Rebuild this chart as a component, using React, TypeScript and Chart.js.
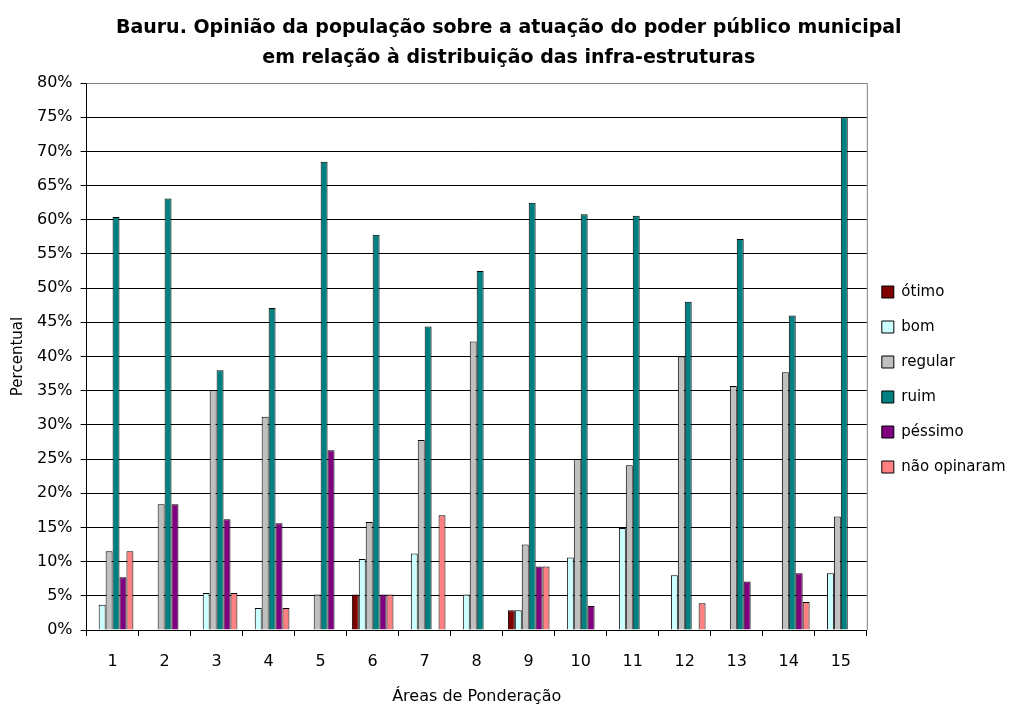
import React, { useEffect, useRef } from "react";
import { Chart, registerables } from "chart.js";

Chart.register(...registerables);

const categories = ["1", "2", "3", "4", "5", "6", "7", "8", "9", "10", "11", "12", "13", "14", "15"];
const otimo = [null, null, null, null, null, 5.2, null, null, 2.9, null, null, null, null, null, null];
const bom = [3.7, null, 5.4, 3.2, null, 10.4, 11.2, 5.2, 2.9, 10.6, 14.9, 8.0, null, null, 8.3];
const regular = [11.5, 18.4, 35.1, 31.2, 5.2, 15.8, 27.8, 42.2, 12.5, 25.0, 24.1, 40.0, 35.7, 37.7, 16.6];
const ruim = [60.4, 63.1, 38.0, 47.1, 68.5, 57.8, 44.4, 52.5, 62.5, 60.8, 60.6, 48.0, 57.2, 46.0, 75.0];
const pessimo = [7.7, 18.4, 16.2, 15.6, 26.3, 5.2, null, null, 9.3, 3.5, null, null, 7.1, 8.3, null];
const naoOpinaram = [11.5, null, 5.4, 3.2, null, 5.2, 16.8, null, 9.3, null, null, 3.9, null, 4.1, null];

const seriesNames = ["ótimo", "bom", "regular", "ruim", "péssimo", "não opinaram"];
const seriesColors = ["#800000", "#CCFFFF", "#C0C0C0", "#008080", "#800080", "#FF8080"];
const titleLines = [
  "Bauru. Opinião da população sobre a atuação do poder público municipal",
  "em relação à distribuição das infra-estruturas",
];
const FONT = "'DejaVu Sans', sans-serif";

const framePlugin = {
  id: "frame",
  beforeDatasetsDraw(chart: any) {
    const { ctx, chartArea } = chart;
    ctx.save();
    ctx.strokeStyle = "#808080";
    ctx.lineWidth = 1;
    ctx.beginPath();
    ctx.moveTo(chartArea.left, chartArea.top + 0.5);
    ctx.lineTo(chartArea.right + 0.5, chartArea.top + 0.5);
    ctx.lineTo(chartArea.right + 0.5, chartArea.bottom);
    ctx.stroke();
    ctx.restore();
  },
};

export default function App() {
  const ref = useRef<HTMLCanvasElement | null>(null);
  useEffect(() => {
    if (!ref.current) return;
    const allData = [otimo, bom, regular, ruim, pessimo, naoOpinaram];
    const chart = new Chart(ref.current, {
      type: "bar",
      data: {
        labels: categories,
        datasets: allData.map((d, i) => ({
          label: seriesNames[i],
          data: d as any,
          backgroundColor: seriesColors[i],
          borderColor: "#000000",
          borderWidth: 1,
          categoryPercentage: 0.8,
          barPercentage: 1.0,
        })),
      },
      options: {
        animation: false,
        responsive: false,
        maintainAspectRatio: false,
        layout: { padding: { left: 2, right: 3.5, top: 0, bottom: 0 } },
        plugins: {
          title: {
            display: true,
            text: titleLines,
            color: "#000",
            font: { family: FONT, size: 19, weight: "bold", lineHeight: 30 / 19 },
            padding: { top: 13, bottom: 10 },
          },
          legend: {
            position: "right",
            align: "center",
            title: {
              display: true,
              text: " ",
              font: { family: FONT, size: 10, lineHeight: 1.2 },
              padding: { top: 0, bottom: 46 },
            },
            labels: {
              color: "#000",
              font: { family: FONT, size: 15, lineHeight: 20 / 15 },
              boxWidth: 12,
              boxHeight: 12,
              padding: 15,
              generateLabels: (ch: any) =>
                Chart.defaults.plugins.legend.labels
                  .generateLabels(ch)
                  .map((l: any) => ({ ...l, text: [l.text] })),
            },
          },
          tooltip: { enabled: false },
        },
        scales: {
          x: {
            offset: true,
            grid: {
              display: true,
              offset: true,
              drawOnChartArea: false,
              drawTicks: true,
              tickLength: 6,
              color: "#000",
            },
            border: { display: true, color: "#000", width: 1 },
            ticks: { color: "#000", font: { family: FONT, size: 16, lineHeight: 1 }, padding: 18 },
            title: {
              display: true,
              text: "Áreas de Ponderação",
              color: "#000",
              font: { family: FONT, size: 16, lineHeight: 1 },
              padding: { top: 1, bottom: 1 },
            },
          },
          y: {
            min: 0,
            max: 80,
            grid: {
              color: (c: any) => (c.tick && c.tick.value === 80 ? "#808080" : "#000"),
              tickColor: "#000",
              tickLength: 6,
              drawTicks: true,
            },
            border: { display: true, color: "#000", width: 1 },
            ticks: {
              stepSize: 5,
              color: "#000",
              font: { family: FONT, size: 16 },
              padding: 8,
              callback: (v: any) => v + "%",
            },
            title: {
              display: true,
              text: "Percentual",
              color: "#000",
              font: { family: FONT, size: 15 },
              padding: { top: 7, bottom: 2 },
            },
          },
        },
      },
      plugins: [framePlugin],
    });
    return () => chart.destroy();
  }, []);
  return (
    <div style={{ position: "absolute", left: 0, top: 0, width: 1019, height: 706, background: "#fff" }}>
      <canvas ref={ref} width={1019} height={706} style={{ width: 1019, height: 706, display: "block" }} />
    </div>
  );
}
